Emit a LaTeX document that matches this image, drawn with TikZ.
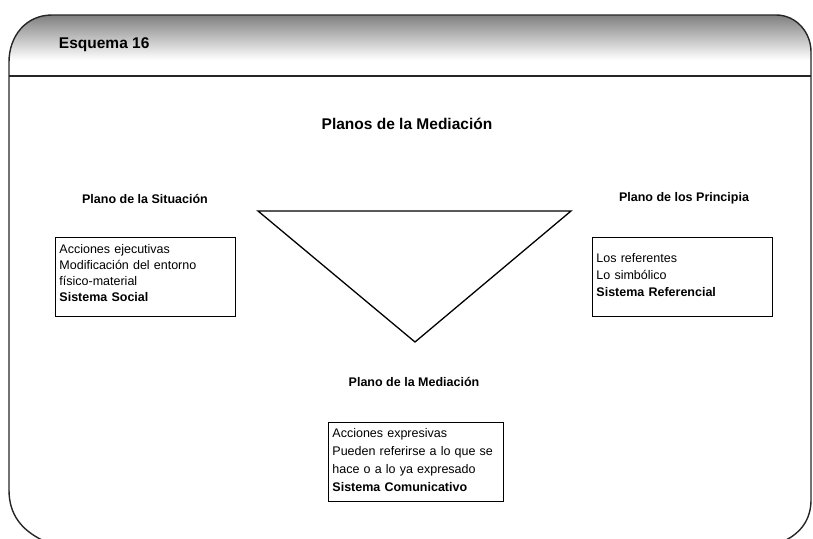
\documentclass[tikz,border=0pt]{standalone}
\usepackage{fontspec}
\setmainfont{Liberation Sans}
\usetikzlibrary{positioning}
\tikzset{heading/.style={font=\fontsize{12.5}{15}\selectfont\bfseries}}
\tikzset{bigheading/.style={font=\fontsize{15.5}{18}\selectfont\bfseries}}
\tikzset{infobox/.style={draw,line width=0.9pt,align=left,anchor=north west,
                         inner xsep=4pt,inner ysep=4pt,
                         font=\fontsize{12.5}{16}\selectfont}}
% first line height and last line depth inside the boxes
\newcommand{\toppad}[1]{\rule{0pt}{#1}}
\newcommand{\botpad}[1]{\rule[-#1]{0pt}{#1}}

\begin{document}
\begin{tikzpicture}[x=1pt,y=-1pt,line width=1.3pt]
    \tikzstyle{frameline}=[line width=1.4pt,black!85]
    \useasboundingbox (0,0) rectangle (813,538);

    % header band
    \begin{scope}
      \clip (9,76) -- (9,62) .. controls (9,36) and (26,15) .. (52,15)
            -- (776,15) .. controls (796,15) and (811,32) .. (811,52)
            -- (811,76) -- cycle;
      \shade[top color=black!50,bottom color=white] (0,15) rectangle (813,60);
    \end{scope}

    % frame
    \draw[frameline] (9,490) -- (9,62) .. controls (9,36) and (26,15) .. (52,15)
          -- (776,15) .. controls (796,15) and (811,32) .. (811,52) -- (811,500)
          .. controls (811,520) and (800,533) .. (786,540);
    \draw[frameline] (9,490) .. controls (9,515) and (22,530) .. (42,540);
    \draw[frameline] (9,76) -- (811,76);

    \node[bigheading,anchor=west] (esquema) at (55,45) {Esquema 16};
    \node[bigheading] (titulo) at (407,124) {Planos de la Mediación};

    % triangle
    \coordinate (tl) at (258,211);
    \coordinate (tr) at (571,211);
    \coordinate (tb) at (415,342);
    \draw (tl) -- (tr) -- (tb) -- cycle;

    % Labels
    \node[heading] (situacion) at (145,199) {Plano de la Situación};
    \node[heading] (principia) at (684,198) {Plano de los Principia};
    \node[heading] (mediacion) at (414,382) {Plano de la Mediación};

    \node[infobox,text width=172pt] (boxsit) at (55,237)
        {\toppad{12.5pt}Acciones ejecutivas\\Modificación del entorno\\físico-material\\
         \textbf{Sistema Social}\botpad{10pt}};
    \node[infobox,text width=172pt,font=\fontsize{12.5}{17}\selectfont] (boxpri) at (592,237)
        {\toppad{21.5pt}Los referentes\\Lo simbólico\\\textbf{Sistema Referencial}\botpad{15pt}};
    \node[infobox,text width=167pt,font=\fontsize{12.5}{18}\selectfont] (boxmed) at (328,422)
        {\toppad{11.5pt}Acciones expresivas\\Pueden referirse a lo que se\\hace o a lo ya expresado\\
         \textbf{Sistema Comunicativo}\botpad{5pt}};
\end{tikzpicture}
\end{document}
